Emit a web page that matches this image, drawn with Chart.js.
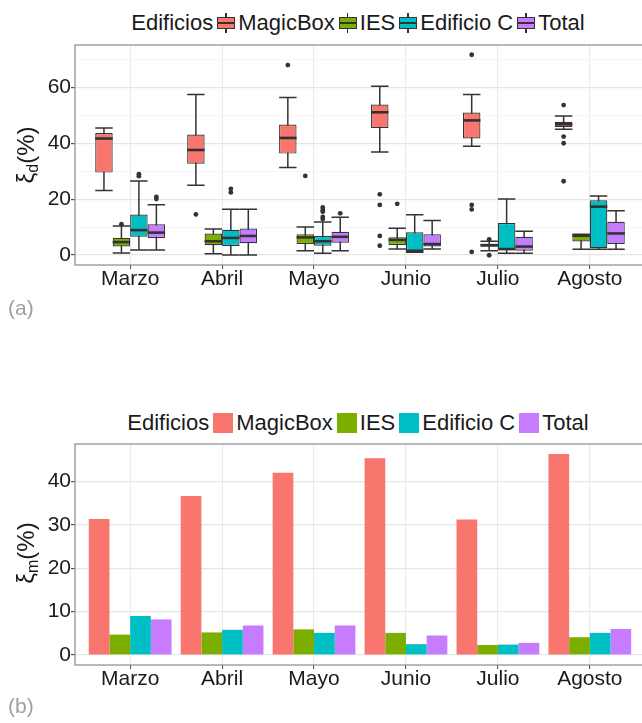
<!DOCTYPE html>
<html>
<head>
<meta charset="utf-8">
<script src="https://cdn.jsdelivr.net/npm/chart.js@4.4.1/dist/chart.umd.min.js"></script>
<style>
  html, body { margin: 0; padding: 0; background: #fff; }
  body { width: 642px; height: 723px; overflow: hidden; position: relative;
         font-family: 'Liberation Sans', Arial, sans-serif; }
  canvas { position: absolute; left: 0; }
  #chartA { top: 0; }
  #chartB { top: 400px; }
  .legend { position: absolute; left: 0; width: 720px; text-align: center; font-size: 22px;
            color: #1a1a1a; white-space: nowrap; line-height: 28px; }
  .legend span { display: inline-block; vertical-align: middle; }
  .legend .lab { margin: 0 4px 0 3px; }
  .legend .ltitle { margin-right: 4px; }
  .key.sq { width: 20px; height: 20px; background: var(--c); }
  .key.box { position: relative; width: 18px; height: 20px; }
  .key.box::before { content: ''; position: absolute; left: 8px; top: 0; width: 1.6px; height: 20px; background: #333; }
  .key.box::after { content: ''; position: absolute; left: 0; top: 4px; width: 16px; height: 10px;
            border: 1px solid #333;
            background: linear-gradient(to bottom, var(--c) 38%, #333 38%, #333 62%, var(--c) 62%); }
  .tag { position: absolute; left: 8px; font-size: 21px; color: #a39e9a; line-height: 24px; }
  .ytitle { position: absolute; font-size: 24px; color: #1a1a1a; white-space: nowrap;
            transform: translate(-50%, -50%) rotate(-90deg); line-height: 28px; }
  .ytitle sub { font-size: 16px; vertical-align: -4px; }
</style>
</head>
<body>
<div id="legendA" class="legend" style="top:8px"></div>
<canvas id="chartA" width="660" height="300"></canvas>
<div class="ytitle" style="left:29px; top:155px">ξ<sub>d</sub>(%)</div>
<div class="tag" style="top:296px">(a)</div>

<div id="legendB" class="legend" style="top:408px"></div>
<canvas id="chartB" width="660" height="300"></canvas>
<div class="ytitle" style="left:29px; top:553px">ξ<sub>m</sub>(%)</div>
<div class="tag" style="top:694px">(b)</div>

<script>
// ── DATA ──────────────────────────────────────────────────────
const MONTHS = ['Marzo', 'Abril', 'Mayo', 'Junio', 'Julio', 'Agosto'];
const SERIES = ['MagicBox', 'IES', 'Edificio C', 'Total'];
const COLORS = ['#F8766D', '#7CAE00', '#00BFC4', '#C77CFF'];

// boxplot stats per month: [lower whisker, q1, median, q3, upper whisker]
const magicBoxStats  = [[23.1, 29.5, 41.7, 43.7, 45.5], [25.0, 32.7, 37.6, 43.1, 57.5], [31.3, 36.3, 41.9, 46.7, 56.4],
                        [36.9, 45.5, 51.1, 53.9, 60.4], [38.9, 41.7, 48.2, 51.0, 57.5], [45.0, 45.8, 46.8, 47.7, 49.8]];
const iesStats       = [[0.7, 3.0, 4.6, 6.1, 10.4], [0.4, 3.5, 4.9, 7.7, 9.3], [1.5, 3.9, 6.3, 7.4, 10.0],
                        [2.1, 3.6, 5.4, 6.3, 9.6], [1.5, 2.9, 3.5, 4.0, 4.9], [2.0, 4.8, 6.9, 7.4, 7.4]];
const edificioCStats = [[1.8, 6.5, 8.9, 14.5, 26.5], [0.0, 3.2, 6.1, 9.0, 16.4], [0.6, 3.3, 4.9, 6.8, 11.8],
                        [1.0, 1.2, 1.5, 8.1, 14.4], [0.6, 1.8, 2.1, 11.4, 20.0], [2.0, 2.4, 17.3, 19.6, 21.1]];
const totalStats     = [[1.8, 6.1, 8.0, 11.0, 18.0], [0.0, 4.2, 6.8, 9.5, 16.4], [1.5, 4.4, 6.5, 8.3, 13.5],
                        [2.1, 3.0, 3.9, 7.4, 12.3], [0.6, 1.5, 3.0, 6.5, 8.5], [2.0, 3.9, 7.7, 11.9, 15.8]];

// outlier points per month
const magicBoxOut  = [[], [14.5], [68.0], [21.7, 17.9, 6.8, 3.3], [71.7, 17.9, 16.3, 1.1], [53.7, 42.4, 40.0, 26.4]];
const iesOut       = [[11.0], [], [28.3], [18.3], [5.6, -0.1], []];
const edificioCOut = [[28.2, 28.9], [23.7, 22.4], [17.0, 16.1, 15.5, 13.6, 12.9], [], [], []];
const totalOut     = [[20.8, 20.0], [], [14.9], [], [], []];

// monthly mean values (panel b)
const magicBoxMean  = [31.3, 36.6, 42.0, 45.3, 31.2, 46.3];
const iesMean       = [4.7, 5.2, 5.9, 5.1, 2.3, 4.1];
const edificioCMean = [9.0, 5.8, 5.1, 2.5, 2.4, 5.1];
const totalMean     = [8.2, 6.8, 6.8, 4.5, 2.8, 6.0];

// y ticks (all = grid lines, major = labelled)
const Y_TICKS_A = [0, 10, 20, 30, 40, 50, 60, 70];
const Y_MAJOR_A = [0, 20, 40, 60];
const Y_TICKS_B = [0, 5, 10, 15, 20, 25, 30, 35, 40, 45];
const Y_MAJOR_B = [0, 10, 20, 30, 40];

const BOX_STATS = [magicBoxStats, iesStats, edificioCStats, totalStats];
const BOX_OUT   = [magicBoxOut, iesOut, edificioCOut, totalOut];
const MEANS     = [magicBoxMean, iesMean, edificioCMean, totalMean];

// ── STYLE ─────────────────────────────────────────────────────
const FONT  = "'Liberation Sans', Arial, sans-serif";
const INK   = '#1a1a1a';
const DARK  = '#333333';
const FRAME = '#8a8a8a';

Chart.defaults.font.family = FONT;
Chart.defaults.font.size = 21;
Chart.defaults.color = INK;

// ── LEGENDS (html) ────────────────────────────────────────────
function buildLegend(id, kind) {
  const el = document.getElementById(id);
  let html = '<span class="ltitle">Edificios</span>';
  SERIES.forEach((s, i) => {
    html += `<span class="key ${kind}" style="--c:${COLORS[i]}"></span><span class="lab">${s}</span>`;
  });
  el.innerHTML = html;
}
buildLegend('legendA', 'box');
buildLegend('legendB', 'sq');

// ── PLUGINS ───────────────────────────────────────────────────
const panelFrame = {
  id: 'panelFrame',
  afterDraw(chart) {
    const a = chart.chartArea, ctx = chart.ctx;
    ctx.save();
    ctx.strokeStyle = FRAME;
    ctx.lineWidth = 1.2;
    ctx.strokeRect(a.left, a.top, a.right - a.left, a.bottom - a.top);
    ctx.restore();
  }
};

// whiskers behind the boxes, medians + outliers on top
const boxWhiskers = {
  id: 'boxWhiskers',
  beforeDatasetsDraw(chart) {
    const ctx = chart.ctx, y = chart.scales.y;
    ctx.save();
    ctx.strokeStyle = DARK;
    ctx.lineWidth = 1.5;
    chart.data.datasets.forEach((ds, d) => {
      chart.getDatasetMeta(d).data.forEach((bar, i) => {
        const {x, width} = bar.getProps(['x', 'width'], true);
        const s = ds.stats[i];
        const lo = y.getPixelForValue(s[0]), hi = y.getPixelForValue(s[4]);
        ctx.beginPath();
        ctx.moveTo(x, lo); ctx.lineTo(x, hi);
        ctx.moveTo(x - width / 2, lo); ctx.lineTo(x + width / 2, lo);
        ctx.moveTo(x - width / 2, hi); ctx.lineTo(x + width / 2, hi);
        ctx.stroke();
      });
    });
    ctx.restore();
  },
  afterDatasetsDraw(chart) {
    const ctx = chart.ctx, y = chart.scales.y;
    ctx.save();
    chart.data.datasets.forEach((ds, d) => {
      chart.getDatasetMeta(d).data.forEach((bar, i) => {
        const {x, width} = bar.getProps(['x', 'width'], true);
        const med = y.getPixelForValue(ds.stats[i][2]);
        ctx.strokeStyle = DARK;
        ctx.lineWidth = 2.6;
        ctx.beginPath();
        ctx.moveTo(x - width / 2, med); ctx.lineTo(x + width / 2, med);
        ctx.stroke();
        ctx.fillStyle = DARK;
        ds.outliers[i].forEach(v => {
          ctx.beginPath();
          ctx.arc(x, y.getPixelForValue(v), 2.4, 0, Math.PI * 2);
          ctx.fill();
        });
      });
    });
    ctx.restore();
  }
};

// ── SHARED SCALES ─────────────────────────────────────────────
function xScale() {
  return {
    type: 'linear',
    min: -0.6,
    max: 5.6,
    offset: false,
    afterBuildTicks: s => { s.ticks = MONTHS.map((m, i) => ({ value: i })); },
    afterFit: s => { s.height = 35; },
    border: { display: false },
    grid: { offset: false, color: '#ebebeb', lineWidth: 1.1, tickLength: 4, tickColor: '#555' },
    ticks: { autoSkip: false, maxRotation: 0, padding: -2, color: INK, callback: v => MONTHS[v] }
  };
}

function yScale(min, max, all, major) {
  return {
    type: 'linear',
    min: min,
    max: max,
    afterBuildTicks: s => { s.ticks = all.map(v => ({ value: v })); },
    afterFit: s => { s.width = 75; },
    border: { display: false },
    grid: {
      color: c => major.includes(c.tick.value) ? '#e6e6e6' : '#f3f3f3',
      lineWidth: c => major.includes(c.tick.value) ? 1.2 : 0.8,
      tickLength: 4,
      tickColor: c => major.includes(c.tick.value) ? '#555' : 'rgba(0,0,0,0)'
    },
    ticks: { padding: 0, color: INK, callback: v => major.includes(v) ? String(v) : '' }
  };
}

// ── PANEL A — boxplots ────────────────────────────────────────
new Chart(document.getElementById('chartA'), {
  type: 'bar',
  data: {
    datasets: SERIES.map((s, d) => ({
      label: s,
      data: BOX_STATS[d].map((st, i) => ({ x: i, y: [st[1], st[3]] })),
      stats: BOX_STATS[d],
      outliers: BOX_OUT[d],
      backgroundColor: COLORS[d],
      borderColor: DARK,
      borderWidth: 1.2,
      borderSkipped: false,
      categoryPercentage: 0.76,
      barPercentage: 1
    }))
  },
  options: {
    responsive: false,
    animation: false,
    layout: { padding: { top: 45, right: 15, left: 0, bottom: 0 } },
    plugins: { legend: { display: false }, tooltip: { enabled: false } },
    scales: {
      x: xScale(),
      y: yScale(-3.6, 75.2, Y_TICKS_A, Y_MAJOR_A)
    }
  },
  plugins: [boxWhiskers, panelFrame]
});

// ── PANEL B — grouped bars ────────────────────────────────────
new Chart(document.getElementById('chartB'), {
  type: 'bar',
  data: {
    datasets: SERIES.map((s, d) => ({
      label: s,
      data: MEANS[d].map((v, i) => ({ x: i, y: v })),
      backgroundColor: COLORS[d],
      borderWidth: 0,
      categoryPercentage: 0.9,
      barPercentage: 1
    }))
  },
  options: {
    responsive: false,
    animation: false,
    layout: { padding: { top: 44, right: 15, left: 0, bottom: 0 } },
    plugins: { legend: { display: false }, tooltip: { enabled: false } },
    scales: {
      x: xScale(),
      y: yScale(-2.3, 48.6, Y_TICKS_B, Y_MAJOR_B)
    }
  },
  plugins: [panelFrame]
});
</script>
</body>
</html>
